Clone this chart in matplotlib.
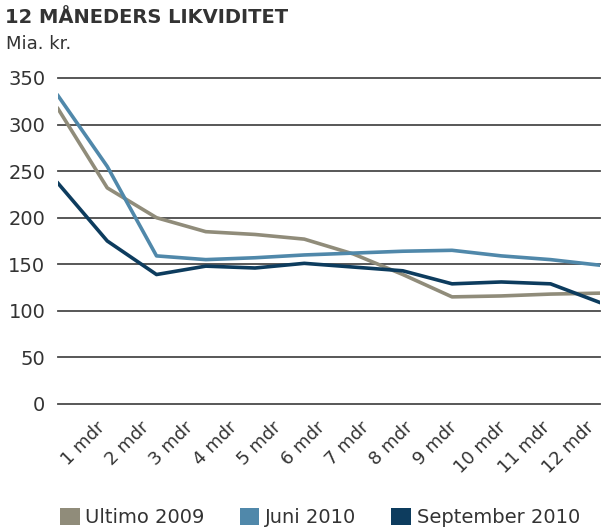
import matplotlib
matplotlib.use("Agg")
import matplotlib.pyplot as plt
from matplotlib.patches import Patch

# Data (Mia. kr.)
MONTHS = ["1 mdr", "2 mdr", "3 mdr", "4 mdr", "5 mdr", "6 mdr",
          "7 mdr", "8 mdr", "9 mdr", "10 mdr", "11 mdr", "12 mdr"]
ULTIMO_2009 = [317, 232, 200, 185, 182, 177, 161, 139, 115, 116, 118, 119]
JUNI_2010 = [331, 255, 159, 155, 157, 160, 162, 164, 165, 159, 155, 149]
SEPT_2010 = [237, 175, 139, 148, 146, 151, 147, 143, 129, 131, 129, 109]
Y_TICKS = [0, 50, 100, 150, 200, 250, 300, 350]

COL_ULT = "#908c7a"
COL_JUN = "#5088aa"
COL_SEP = "#0d3c5e"
COL_TXT = "#333333"

plt.rcParams["font.family"] = ["DejaVu Sans"]

fig = plt.figure(figsize=(6.01, 5.29), dpi=100)
ax = fig.add_axes([0.0965, 0.2363, 0.9015, 0.6163])

x = list(range(1, len(MONTHS) + 1))
ax.plot(x, ULTIMO_2009, color=COL_ULT, lw=2.6, zorder=3)
ax.plot(x, JUNI_2010, color=COL_JUN, lw=2.6, zorder=4)
ax.plot(x, SEPT_2010, color=COL_SEP, lw=2.6, zorder=5)

ax.set_xlim(1, 12)
ax.set_ylim(0, 350)
ax.set_yticks(Y_TICKS)
ax.set_yticklabels([str(v) for v in Y_TICKS], fontsize=14, color=COL_TXT)
for v in Y_TICKS:
    ax.axhline(v, color="#4a4a4a", lw=1.3, zorder=1, clip_on=False)
for s in ax.spines.values():
    s.set_visible(False)
ax.tick_params(axis="y", length=0, pad=9)
ax.set_xticks([])

# category labels sit on their own band axis
lab_ax = ax.twiny()
lab_ax.set_xlim(0.43, 12.72)
lab_ax.xaxis.set_ticks_position("bottom")
lab_ax.set_xticks(x)
lab_ax.set_xticklabels(MONTHS, rotation=45, ha="center", va="top",
                       fontsize=13, color=COL_TXT)
lab_ax.tick_params(axis="x", length=0, pad=10)
for s in lab_ax.spines.values():
    s.set_visible(False)

fig.text(0.008, 0.966, "12 MÅNEDERS LIKVIDITET", fontsize=14, fontweight="semibold",
         color=COL_TXT, va="center", ha="left")
fig.text(0.010, 0.916, "Mia. kr.", fontsize=13, color=COL_TXT, va="center", ha="left")

handles = [Patch(facecolor=COL_ULT, edgecolor="none", label="Ultimo 2009"),
           Patch(facecolor=COL_JUN, edgecolor="none", label="Juni 2010"),
           Patch(facecolor=COL_SEP, edgecolor="none", label="September 2010")]
leg = fig.legend(handles=handles, loc="center left", bbox_to_anchor=(0.100, 0.022),
                 ncol=3, frameon=False, fontsize=14, handlelength=1.0, handleheight=1.0,
                 handletextpad=0.3, columnspacing=1.8, borderaxespad=0, borderpad=0)
for t in leg.get_texts():
    t.set_color(COL_TXT)

fig.savefig("out.png", dpi=100)
